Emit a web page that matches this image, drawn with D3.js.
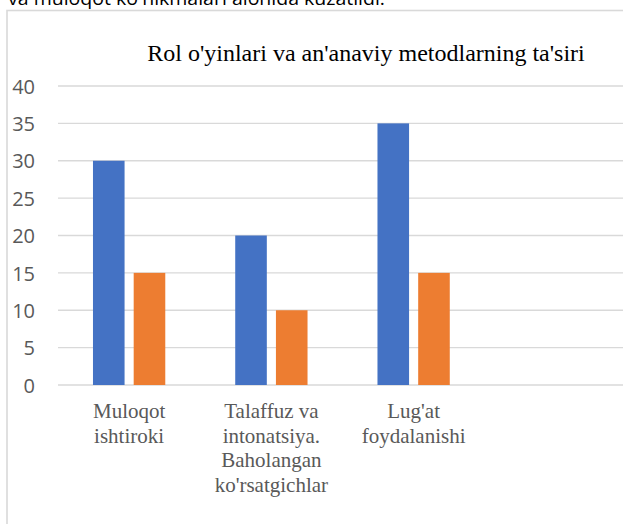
<!DOCTYPE html>
<html>
<head>
<meta charset="utf-8">
<script src="https://cdn.jsdelivr.net/npm/d3@7/dist/d3.min.js"></script>
<style>
  html, body { margin: 0; padding: 0; background: #fff; overflow: hidden; }
  svg { display: block; }
</style>
</head>
<body>
<svg id="chart" width="623" height="524"></svg>
<script>
const categories = [
  ["Muloqot", "ishtiroki"],
  ["Talaffuz va", "intonatsiya.", "Baholangan", "ko'rsatgichlar"],
  ["Lug'at", "foydalanishi"],
  [""]
];
const categoryKeys = ["c1", "c2", "c3", "c4"];
const seriesNames = ["Rol o'yinlari", "An'anaviy metodlar"];
const seriesA = [30, 20, 35, null];
const seriesB = [15, 10, 15, null];
const yTicks = [0, 5, 10, 15, 20, 25, 30, 35, 40];
const titleText = "Rol o'yinlari va an'anaviy metodlarning ta'siri";
const topText = "va muloqot ko'nikmalari alohida kuzatildi.";
const colors = ["#4472C4", "#ED7D31"];

const svg = d3.select("#chart");

// cut-off paragraph text at the very top
svg.append("text")
  .attr("x", 8).attr("y", 5)
  .attr("font-family", "'Open Sans', sans-serif")
  .attr("font-size", 19)
  .attr("fill", "#000")
  .attr("textLength", 377)
  .attr("lengthAdjust", "spacingAndGlyphs")
  .text(topText);

// chart frame
svg.append("rect")
  .attr("x", 7).attr("y", 10.5)
  .attr("width", 700).attr("height", 600)
  .attr("fill", "none")
  .attr("stroke", "#d9d9d9")
  .attr("stroke-width", 1.6);

const plotLeft = 58, plotRight = 627;
const y = d3.scaleLinear().domain([0, 40]).range([385, 86]);
const x0 = d3.scaleBand().domain(categoryKeys).range([plotLeft, plotRight]).padding(0);
const groupW = 72.3;
const gOff = (x0.bandwidth() - groupW) / 2;
const x1 = d3.scaleBand().domain([0, 1]).range([0, groupW]).paddingInner(0.224).paddingOuter(0);

// gridlines
svg.append("g")
  .selectAll("line")
  .data(yTicks)
  .join("line")
  .attr("x1", plotLeft).attr("x2", plotRight)
  .attr("y1", d => y(d)).attr("y2", d => y(d))
  .attr("stroke", "#d9d9d9")
  .attr("stroke-width", 1.3);

// y axis labels
const yAxis = d3.axisLeft(y).tickValues(yTicks).tickSize(0).tickPadding(0);
const ya = svg.append("g").attr("transform", "translate(35,0)").call(yAxis);
ya.select(".domain").remove();
ya.selectAll("text")
  .attr("font-family", "'Open Sans', sans-serif")
  .attr("font-size", 20)
  .attr("fill", "#595959")
  .attr("dy", "0.36em");

// bars
const rows = categoryKeys.map((k, i) => ({ k, vals: [seriesA[i], seriesB[i]] }));
const groups = svg.append("g").selectAll("g")
  .data(rows)
  .join("g")
  .attr("transform", d => `translate(${x0(d.k) + gOff},0)`);
groups.selectAll("rect")
  .data(d => d.vals.map((v, j) => ({ v, j })).filter(e => e.v != null))
  .join("rect")
  .attr("x", e => x1(e.j))
  .attr("width", x1.bandwidth())
  .attr("y", e => y(e.v))
  .attr("height", e => y(0) - y(e.v))
  .attr("fill", e => colors[e.j]);

// category labels
const catG = svg.append("g");
categoryKeys.forEach((k, i) => {
  const t = catG.append("text")
    .attr("x", x0(k) + x0.bandwidth() / 2)
    .attr("y", 418)
    .attr("text-anchor", "middle")
    .attr("font-family", "'Liberation Serif', 'Times New Roman', serif")
    .attr("font-size", 21)
    .attr("fill", "#595959");
  categories[i].forEach((line, li) => {
    t.append("tspan")
      .attr("x", x0(k) + x0.bandwidth() / 2)
      .attr("y", 418 + li * 24.7)
      .text(line);
  });
});

// title
svg.append("text")
  .attr("x", 366).attr("y", 61)
  .attr("text-anchor", "middle")
  .attr("font-family", "'Liberation Serif', 'Times New Roman', serif")
  .attr("font-size", 24)
  .attr("fill", "#000")
  .text(titleText);
</script>
</body>
</html>
